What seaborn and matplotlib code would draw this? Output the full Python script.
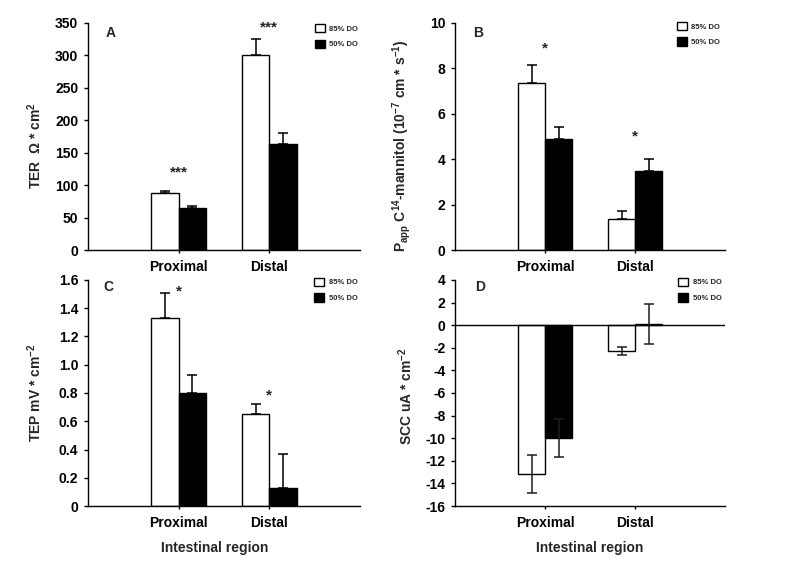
import matplotlib
matplotlib.use("Agg")
import matplotlib.pyplot as plt
from matplotlib.ticker import FuncFormatter
import seaborn as sns
import pandas as pd

# ---------------- data ----------------
regions = ["Proximal", "Distal"]
groups = ["85% DO", "50% DO"]

ter_85 = [88, 300]
ter_85_err = [3, 25]
ter_50 = [65, 163]
ter_50_err = [3, 17]

papp_85 = [7.35, 1.37]
papp_85_err = [0.80, 0.35]
papp_50 = [4.90, 3.47]
papp_50_err = [0.50, 0.53]

tep_85 = [1.33, 0.65]
tep_85_err = [0.18, 0.07]
tep_50 = [0.80, 0.13]
tep_50_err = [0.13, 0.24]

scc_85 = [-13.15, -2.30]
scc_85_err = [1.70, 0.35]
scc_50 = [-9.97, 0.10]
scc_50_err = [1.70, 1.75]

# significance marks: text and height per region
sig_ter = ["***", "***"]
sig_ter_y = [120, 343]
sig_papp = ["*", "*"]
sig_papp_y = [8.9, 5.0]
sig_tep = ["*", "*"]
sig_tep_y = [1.52, 0.78]

sns.set_theme(style="ticks")
plt.rcParams["font.family"] = ["Liberation Sans", "DejaVu Sans"]
plt.rcParams["font.weight"] = "bold"
plt.rcParams["axes.labelweight"] = "bold"
plt.rcParams["axes.unicode_minus"] = False
plt.rcParams["mathtext.fontset"] = "custom"
plt.rcParams["mathtext.rm"] = "Liberation Sans:bold"
plt.rcParams["mathtext.it"] = "Liberation Sans:bold"
plt.rcParams["mathtext.bf"] = "Liberation Sans:bold"
plt.rcParams["mathtext.default"] = "rm"

W, H = 785, 587
fig = plt.figure(figsize=(W / 100, H / 100), dpi=100)


def make_axes(left, top, right, bottom):
    return fig.add_axes([left / W, 1 - bottom / H, (right - left) / W, (bottom - top) / H])


def panel(ax, v85, e85, v50, e50, both_sides=False, err_color="black"):
    df = pd.DataFrame({
        "region": regions * 2,
        "group": [groups[0]] * 2 + [groups[1]] * 2,
        "value": v85 + v50,
    })
    sns.barplot(data=df, x="region", y="value", hue="group", order=regions,
                hue_order=groups, palette=["white", "black"], edgecolor="black",
                linewidth=1.0, width=0.6, errorbar=None, saturation=1, ax=ax)
    # error bars on top of the bars seaborn placed
    for cont, errs in zip(ax.containers, [e85, e50]):
        for bar, err in zip(cont, errs):
            xc = bar.get_x() + bar.get_width() / 2
            val = bar.get_y() + bar.get_height()
            yerr = [[err], [err]] if both_sides else [[0], [err]]
            ax.errorbar(xc, val, yerr=yerr, fmt="none", ecolor=err_color,
                        elinewidth=1.1, capsize=3.6, capthick=1.1, zorder=3)
    ax.set_xlim(-1, 2)
    ax.set_xlabel("")
    sns.despine(ax=ax)
    for s in ["left", "bottom"]:
        ax.spines[s].set_linewidth(1.0)
        ax.spines[s].set_color("black")
    ax.tick_params(axis="y", length=3, width=1.0, pad=4, labelsize=10, colors="black")
    ax.tick_params(axis="x", length=2.5, width=1.0, pad=4.5, labelsize=10, colors="black")
    for lab in ax.get_xticklabels() + ax.get_yticklabels():
        lab.set_fontweight("bold")
    handles, labels = ax.get_legend_handles_labels()
    return handles, labels


def add_legend(ax, handles, labels, x, y):
    ax.legend(handles, labels, loc="upper left", bbox_to_anchor=(x, y),
              frameon=False, prop={"size": 5.5, "weight": "bold"},
              handlelength=1.3, handleheight=1.3, handletextpad=0.6,
              labelspacing=0.9, borderaxespad=0, borderpad=0)


def add_sig(ax, marks, ys):
    for i, (m, y) in enumerate(zip(marks, ys)):
        ax.text(i, y, m, ha="center", va="center", fontsize=11, fontweight="bold")


# ---- A: TER ----
axA = make_axes(88, 23, 360, 250)
h, l = panel(axA, ter_85, ter_85_err, ter_50, ter_50_err)
axA.set_ylim(0, 350)
axA.set_yticks(range(0, 351, 50))
axA.set_ylabel("TER  Ω * cm$^{2}$", fontsize=10, fontweight="bold")
axA.yaxis.set_label_coords(-0.16, 0.46)
add_legend(axA, h, l, 0.834, 0.995)
add_sig(axA, sig_ter, sig_ter_y)
axA.text(0.085, 0.956, "A", transform=axA.transAxes, ha="center", va="center",
         fontsize=10, fontweight="bold")

# ---- B: Papp ----
axB = make_axes(455, 23, 725, 250)
h, l = panel(axB, papp_85, papp_85_err, papp_50, papp_50_err)
axB.set_ylim(0, 10)
axB.set_yticks(range(0, 11, 2))
axB.set_ylabel("P$_{app}$ C$^{14}$-mannitol (10$^{-7}$ cm * s$^{-1}$)",
               fontsize=10, fontweight="bold")
axB.yaxis.set_label_coords(-0.155, 0.46)
add_legend(axB, h, l, 0.822, 1.005)
add_sig(axB, sig_papp, sig_papp_y)
axB.text(0.085, 0.956, "B", transform=axB.transAxes, ha="center", va="center",
         fontsize=10, fontweight="bold")

# ---- C: TEP ----
axC = make_axes(88, 280, 360, 506)
h, l = panel(axC, tep_85, tep_85_err, tep_50, tep_50_err)
axC.set_ylim(0, 1.6)
axC.set_yticks([i * 0.2 for i in range(9)])
axC.yaxis.set_major_formatter(FuncFormatter(lambda v, p: "0" if abs(v) < 1e-9 else f"{v:.1f}"))
axC.set_ylabel("TEP mV * cm$^{-2}$", fontsize=10, fontweight="bold")
axC.yaxis.set_label_coords(-0.16, 0.5)
axC.set_xlabel("Intestinal region", fontsize=10, fontweight="bold")
axC.xaxis.set_label_coords(0.467, -0.155)
add_legend(axC, h, l, 0.831, 1.01)
add_sig(axC, sig_tep, sig_tep_y)
axC.text(0.074, 0.969, "C", transform=axC.transAxes, ha="center", va="center",
         fontsize=10, fontweight="bold")

# ---- D: SCC ----
axD = make_axes(455, 280, 725, 506)
h, l = panel(axD, scc_85, scc_85_err, scc_50, scc_50_err, both_sides=True,
             err_color="#1e1e1e")
axD.set_ylim(-16, 4)
axD.set_yticks(range(-16, 5, 2))
axD.axhline(0, color="black", lw=1.0, zorder=4)
axD.set_ylabel("SCC uA * cm$^{-2}$", fontsize=10, fontweight="bold")
axD.yaxis.set_label_coords(-0.148, 0.487)
axD.set_xlabel("Intestinal region", fontsize=10, fontweight="bold")
axD.xaxis.set_label_coords(0.5, -0.155)
add_legend(axD, h, l, 0.826, 1.01)
axD.text(0.093, 0.969, "D", transform=axD.transAxes, ha="center", va="center",
         fontsize=10, fontweight="bold")

fig.savefig("out.png", dpi=100, facecolor="white")
